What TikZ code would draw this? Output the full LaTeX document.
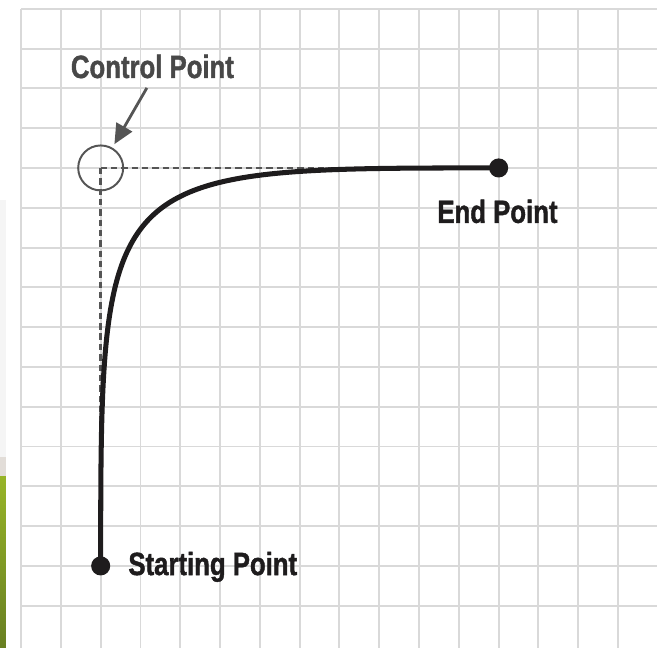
\documentclass[tikz,border=0pt]{standalone}
\usepackage{fontspec}
\newfontfamily\labelfont{Liberation Sans}[FakeStretch=0.8, BoldFeatures={FakeBold=1.3}]
\usetikzlibrary{arrows.meta,positioning,backgrounds}
\definecolor{gridgray}{HTML}{D9D9D9}
\definecolor{guidegray}{HTML}{555555}
\definecolor{inkblack}{HTML}{1E1C1D}
\definecolor{stripgreen}{HTML}{97B428}
\definecolor{stripdark}{HTML}{687F22}
\definecolor{striptan}{HTML}{E2DDD8}

\begin{document}
\begin{tikzpicture}[
    gridline/.style={draw=gridgray, line width=1.4pt},
    guide/.style={draw=guidegray, line width=1.8pt, dash pattern=on 0.16cm off 0.1cm},
    curve/.style={draw=inkblack, line width=3.6pt},
    dot/.style={circle, fill=inkblack, inner sep=0pt, minimum size=0.48cm},
    ring/.style={circle, draw=guidegray, line width=1.4pt, inner sep=0pt, minimum size=1.13cm},
    pointer/.style={-{Triangle[length=0.5cm,width=0.45cm]}, draw=guidegray, fill=guidegray, line width=2pt},
    lbl/.style={font=\labelfont\bfseries\fontsize{23}{27}\selectfont, text=inkblack, inner sep=0pt},
]
\useasboundingbox (0,0) rectangle (16.76,16.28);

% page edge behind the sheet
\fill[black!4] (0,11.25) rectangle (0.15,4.8);
\fill[striptan] (0,4.8) rectangle (0.15,4.3);
\shade[top color=stripgreen, bottom color=stripdark] (0,4.3) rectangle (0.15,0);

% points
\node[dot] (start) at (2.53,2.06) {};
\node[ring] (ctrl) at (2.53,12.06) {};
\node[dot] (end) at (12.53,12.06) {};

% grid and guides underneath
\begin{scope}[on background layer]
\foreach \i in {0,...,15} \draw[gridline] (0.53+\i,0) -- (0.53+\i,16.06);
\foreach \j in {0,...,15} \draw[gridline] (0.53,1.06+\j) -- (16.5,1.06+\j);
\draw[guide] (ctrl.center) -- (end.center);
\draw[guide] (ctrl.center) -- (start.center);
\end{scope}

% the curve
\draw[curve] (start.center) .. controls (ctrl.center) and (ctrl.center) .. (end.center);

% labels
\node[lbl, text=guidegray!85!black, anchor=base] (ctrllbl) at (3.83,14.32) {Control Point};
\node[lbl, anchor=base west] (startlbl) at (3.22,1.83) {Starting Point};
\node[lbl, anchor=base] (endlbl) at (12.5,10.68) {End Point};

% pointer
\coordinate (tail) at (3.69,14.07);
\draw[pointer, shorten >=0.1cm] (tail) -- (ctrl);

\end{tikzpicture}
\end{document}
